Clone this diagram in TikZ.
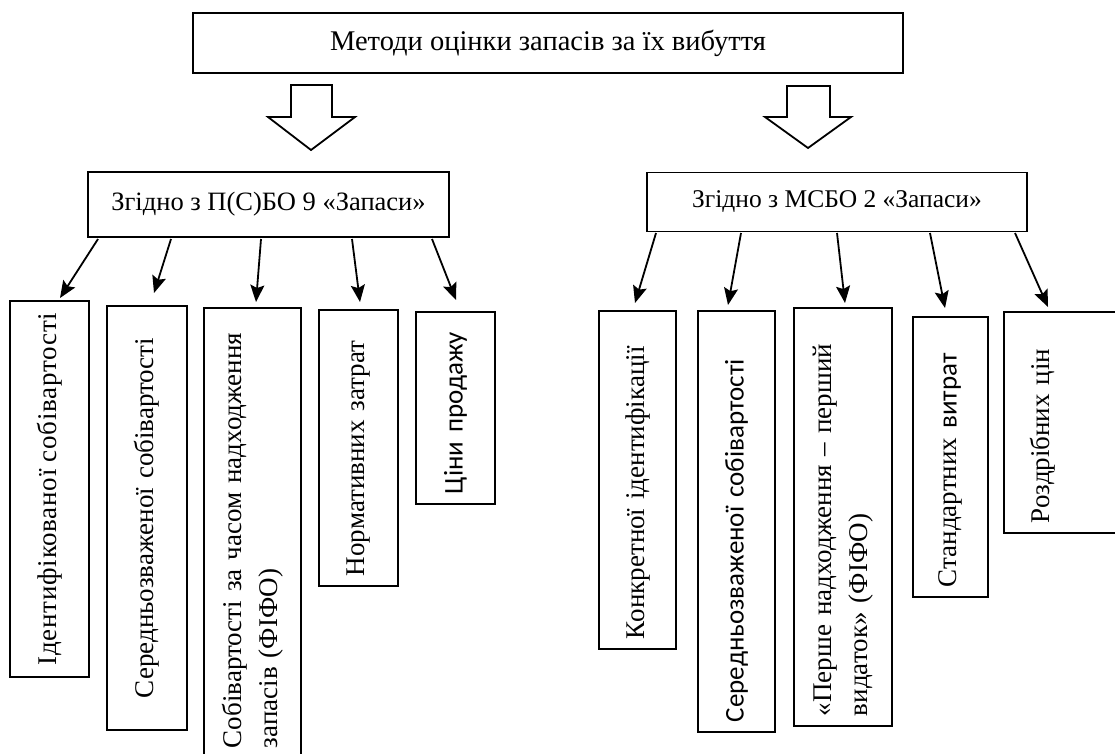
\documentclass[tikz,border=0pt]{standalone}
\usepackage{fontspec}
\setmainfont{Liberation Serif}
\newfontfamily\sansfam{Carlito}
\newfontfamily\widefam[LetterSpace=2.7]{Liberation Serif}
\usetikzlibrary{arrows.meta}
\begin{document}
\begin{tikzpicture}[x=1pt,y=-1pt,
  every node/.style={font=\fontsize{27}{36}\selectfont},
  hbox/.style={draw,line width=1.8pt,inner sep=0pt},
  vbox/.style={draw,line width=1.8pt,rotate=90,inner ysep=0pt,inner xsep=10pt,align=left},
  hollow/.style={draw,line width=1.8pt,fill=white,line join=miter},
  arr/.style={line width=1.8pt,-{Stealth[length=17pt,width=14pt,inset=3pt]}}]
\useasboundingbox (0,0) rectangle (1115,753);
% top box
\node[hbox,minimum width=710pt,minimum height=60pt,font=\fontsize{28.5}{34}\selectfont] (top) at (548,43) {Методи оцінки запасів за їх вибуття};
% hollow arrows
\draw[hollow] (291,85) -- (332,85) -- (332,117) -- (355,117) -- (311,150) -- (268,117) -- (291,117) -- cycle;
\draw[hollow] (787,86) -- (830,86) -- (830,117) -- (851,117) -- (808,148) -- (765,117) -- (787,117) -- cycle;
% middle boxes
\node[hbox,minimum width=361pt,minimum height=65pt,font=\fontsize{26.5}{32}\selectfont] (L) at (268.5,204.5) {Згідно з П(С)БО 9 «Запаси»};
\node[hbox,minimum width=380pt,minimum height=59pt,font=\fontsize{25.5}{32}\selectfont] (R) at (837,202) {Згідно з МСБО 2 «Запаси»};
% left boxes
\node[vbox,line width=2.6pt,minimum width=376pt,minimum height=79pt,inner xsep=2pt,align=center,font=\fontsize{27}{36}\widefam] (b1) at (49.5,489) {Ідентифікованої собівартості};
\node[vbox,line width=2.6pt,minimum width=424pt,minimum height=80pt,text width=404pt,align=center] (b2) at (147,518) {Середньозваженої собівартості};
\node[vbox,minimum width=464pt,minimum height=97pt,inner xsep=24pt,text width=416pt] (b3) at (252.5,540) {Собівартості за часом надходження\\запасів (ФІФО)};
\node[vbox,line width=1.2pt,minimum width=276pt,minimum height=79pt,text width=256pt] (b4) at (358.5,448) {Нормативних затрат};
\node[vbox,line width=2.4pt,minimum width=192pt,minimum height=79pt,text width=172pt] (b5) at (455.5,408) {\sansfam Ціни продажу};
% right boxes
\node[vbox,minimum width=338pt,minimum height=77pt,text width=318pt] (c1) at (637.5,480) {Конкретної ідентифікації};
\node[vbox,line width=2.2pt,minimum width=421pt,minimum height=77pt,text width=401pt] (c2) at (736.5,521.5) {\sansfam Середньозваженої собівартості};
\node[vbox,line width=2.2pt,minimum width=418pt,minimum height=98pt,text width=398pt] (c3) at (843,517) {«Перше надходження – перший\\видаток» (ФІФО)};
\node[vbox,line width=2.2pt,minimum width=280pt,minimum height=75pt,text width=260pt] (c4) at (950.5,457) {Стандартних {\sansfam витрат}};
\node[vbox,draw=none,minimum width=221pt,minimum height=77pt,text width=201pt] (c5) at (1042.5,422.5) {Роздрібних цін};
\draw[line width=2.6pt] (1130,312) -| (1004,533) -- (1130,533);
% connector points
\coordinate (l1) at (98,239);  \coordinate (t1) at (60,298);
\coordinate (l2) at (171,239); \coordinate (t2) at (154,293);
\coordinate (l3) at (261,239); \coordinate (t3) at (256,302);
\coordinate (l4) at (352,239); \coordinate (t4) at (360,302);
\coordinate (l5) at (432,239); \coordinate (t5) at (456,300);
\coordinate (r1) at (656,233); \coordinate (u1) at (635,303);
\coordinate (r2) at (741,233); \coordinate (u2) at (728,305);
\coordinate (r3) at (837,233); \coordinate (u3) at (845,303);
\coordinate (r4) at (930,233); \coordinate (u4) at (945,308);
\coordinate (r5) at (1015,233); \coordinate (u5) at (1048,307);
\foreach \i in {1,...,5} {
  \draw[arr] (l\i) -- (t\i);
  \draw[arr] (r\i) -- (u\i);
}
\end{tikzpicture}
\end{document}
